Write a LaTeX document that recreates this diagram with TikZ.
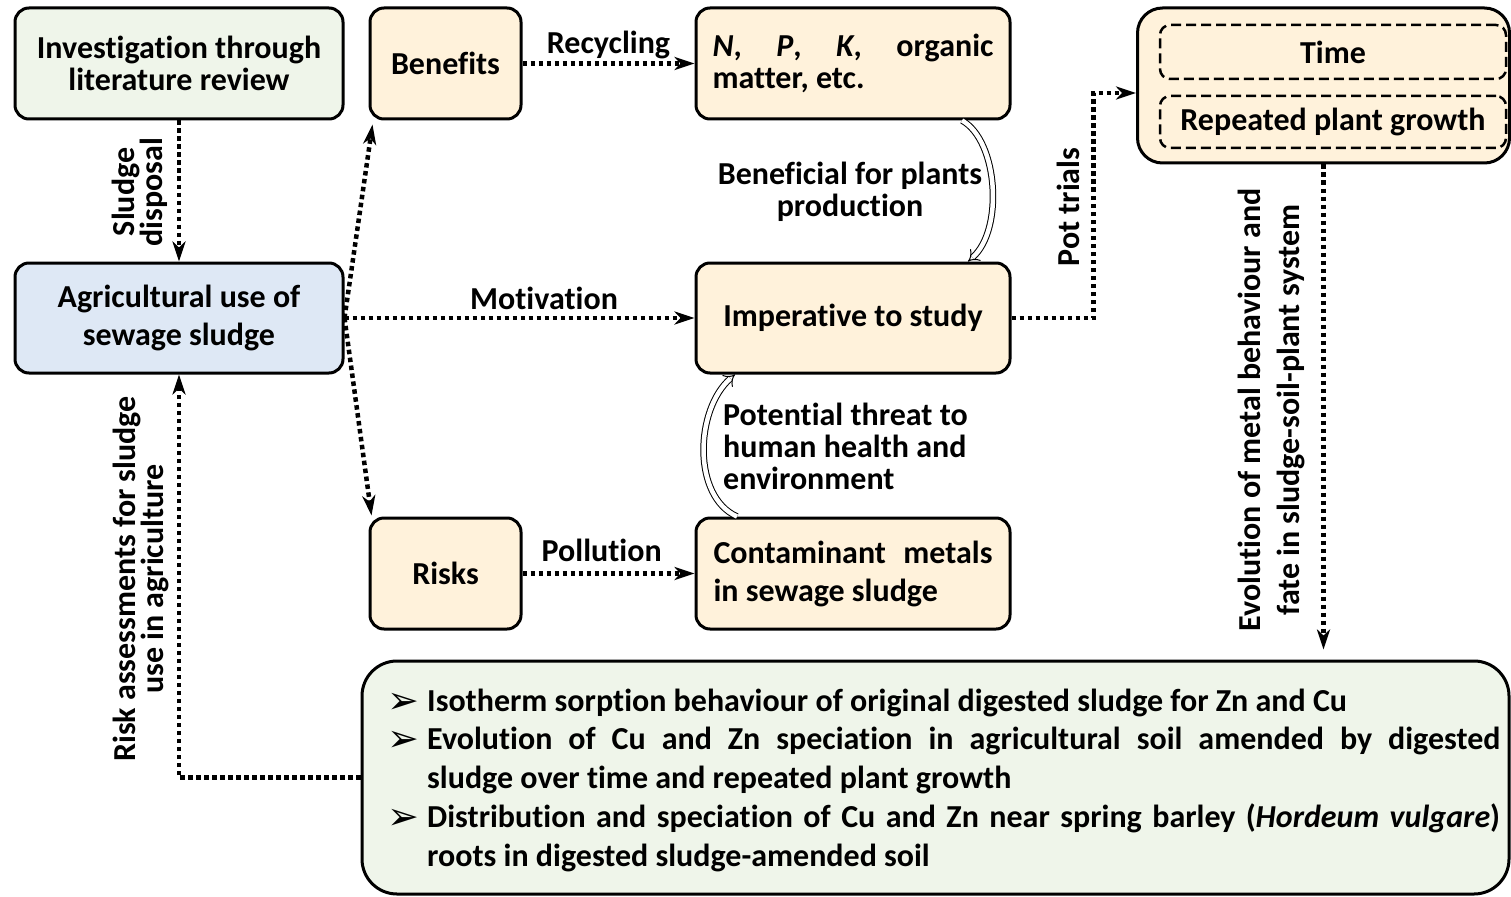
\documentclass[tikz,border=0pt]{standalone}
\usepackage{fontspec}
\setmainfont{Carlito}[Ligatures=NoCommon]
\newfontfamily\symfont{DejaVu Sans}
\usetikzlibrary{arrows.meta,calc}
\definecolor{gfill}{HTML}{EFF5EA}
\definecolor{cfill}{HTML}{FFF2DB}
\definecolor{bfill}{HTML}{DEE8F5}
\newcommand\bitem{\makebox[40pt][l]{\smash{\raisebox{-2pt}{\symfont\fontsize{38}{38}\selectfont ➢}}}}
\begin{document}
\begin{tikzpicture}[x=1pt,y=-1pt,
  txt/.style={font=\bfseries\fontsize{32}{32}\selectfont},
  box/.style={draw, line width=3pt, rounded corners=14pt, inner sep=0pt, align=center, txt},
  cbox/.style={box, fill=cfill},
  dbox/.style={draw, dash pattern=on 10pt off 5pt, line width=2.5pt, rounded corners=10pt, inner sep=0pt, txt, minimum width=346pt},
  dotarrow/.style={line width=4.5pt, dash pattern=on 4.5pt off 3.5pt, -{Stealth[length=20pt,width=13pt,inset=6pt]}},
  lbl/.style={txt, inner sep=0pt},
  hollow/.style={double=white, double distance=4.5pt, line width=1pt, -{Implies}},
]
\useasboundingbox (0,0) rectangle (1511,896);
% boxes
\node[box, fill=gfill, minimum width=328pt, minimum height=111pt] (inv) at (179,63.5) {Investigation through\\literature review};
\node[cbox, minimum width=151pt, minimum height=111pt] (ben) at (445.5,63.5) {Benefits};
\node[cbox, minimum width=314pt, minimum height=111pt, align=left] (npk) at (853,63.5) {\makebox[281pt][s]{\textit{N}, \textit{P}, \textit{K}, organic}\\matter, etc.};
\node[box, fill=bfill, minimum width=328pt, minimum height=110pt, font=\bfseries\fontsize{32}{38}\selectfont] (agri) at (179,318) {Agricultural use of\\sewage sludge};
\node[cbox, minimum width=314pt, minimum height=110pt] (imp) at (853,318) {Imperative to study};
\node[cbox, minimum width=151pt, minimum height=111pt] (risk) at (445.5,573.5) {Risks};
\node[cbox, minimum width=314pt, minimum height=111pt, align=left, font=\bfseries\fontsize{32}{38}\selectfont] (cont) at (853,573.5) {\makebox[279pt][s]{Contaminant metals}\\in sewage sludge};
\node[cbox, rounded corners=25pt, minimum width=372pt, minimum height=155pt] (tbox) at (1323.5,85.5) {};
\node[dbox, minimum height=54pt] (time) at (1333,52) {Time};
\node[dbox, minimum height=52pt] (rep) at (1333,122) {Repeated plant growth};
\node[box, fill=gfill, rounded corners=35pt, minimum width=1147pt, minimum height=233pt] (bot) at (935.5,777.5) {};
\node[anchor=north west, inner sep=0pt, align=left, font=\bfseries\fontsize{32}{38.75}\selectfont] (list) at (387,688.5) {%
\bitem Isotherm sorption behaviour of original digested sludge for Zn and Cu\\
\bitem\makebox[1073pt][s]{Evolution of Cu and Zn speciation in agricultural soil amended by digested}\\
\hspace*{40pt}sludge over time and repeated plant growth\\
\bitem\makebox[1073pt][s]{Distribution and speciation of Cu and Zn near spring barley (\textit{Hordeum vulgare})}\\
\hspace*{40pt}roots in digested sludge-amended soil};
% connectors
\draw[dotarrow] (inv.south) -- (agri.north);
\node[lbl, rotate=90, align=center, font=\bfseries\fontsize{32}{28}\selectfont] (sd) at (140,192) {Sludge\\disposal};
\draw[dotarrow] (agri.east) -- ($(ben.south west)+(4,4)$);
\draw[dotarrow] (agri.east) -- ($(risk.north west)+(3,-1)$);
\draw[dotarrow] (agri.east) -- node[lbl, pos=0.57, above=6pt] (mot) {Motivation} (imp.west);
\draw[dotarrow] (ben.east) -- node[lbl, midway, above=2pt] (rec) {Recycling} (npk.west);
\draw[dotarrow] (risk.east) -- node[lbl, pos=0.46, above=10pt] (pol) {Pollution} (cont.west);
\draw[dotarrow] (imp.east) -- ++(82,0) |- ($(tbox.west)+(0,7.5)$);
\node[lbl, rotate=90] (pot) at (1068,207) {Pot trials};
\draw[dotarrow] (tbox.south) -- ($(bot.north -| tbox.south)+(0,-10)$);
\node[lbl, rotate=90, align=center, font=\bfseries\fontsize{32}{39}\selectfont] (evo) at (1271,410) {Evolution of metal behaviour and\\fate in sludge-soil-plant system};
\draw[dotarrow] (bot.west) -| (agri.south);
\node[lbl, rotate=90, align=center, font=\bfseries\fontsize{32}{28}\selectfont] (ra) at (141,579) {Risk assessments for sludge\\use in agriculture};
% hollow curved arrows
\draw[hollow] ($(npk.south)+(109,0)$) .. controls +(36,20) and +(36,-32) .. ($(imp.north)+(115,0)$);
\node[lbl, align=center] (bfp) at (850,192) {Beneficial for plants\\production};
\draw[hollow] ($(cont.north)+(-116,0)$) .. controls +(-45,-20) and +(-40,35) .. ($(imp.south)+(-118,0)$);
\node[lbl, align=left, anchor=west] (pth) at (723,446) {Potential threat to\\human health and\\environment};
\end{tikzpicture}
\end{document}
